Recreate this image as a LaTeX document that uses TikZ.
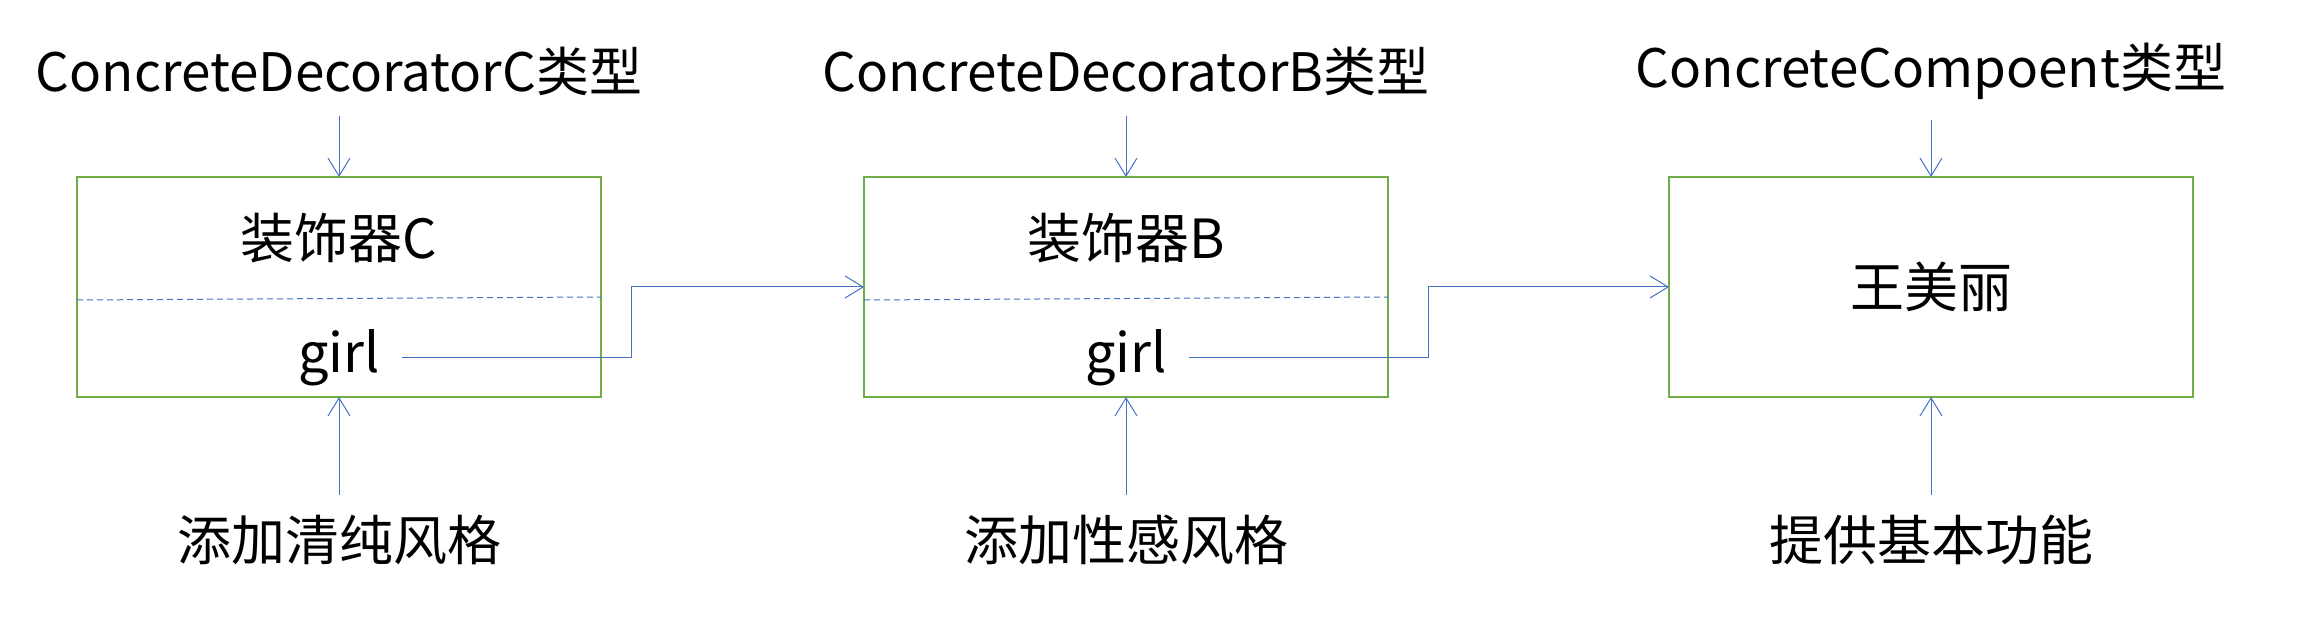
\documentclass[tikz,border=0pt]{standalone}
\usepackage{fontspec}
\setmainfont{Noto Sans CJK SC}
\usetikzlibrary{arrows.meta}
\definecolor{boxgreen}{RGB}{112,173,71}
\definecolor{linkblue}{RGB}{68,114,196}
\tikzset{
  txt/.style={font=\fontsize{27}{32}\selectfont, inner sep=0pt},
  lbl/.style={txt, inner sep=10pt},
  obj/.style={draw=boxgreen, line width=0.75pt, minimum width=262pt,
    minimum height=110pt, inner sep=0pt, outer sep=0pt},
  field/.style={txt, inner sep=11pt},
  link/.style={draw=linkblue, line width=0.5pt,
    -{Straight Barb[length=9pt,width=11pt]}},
  divider/.style={draw=linkblue, line width=0.5pt, dash pattern=on 3pt off 2pt}
}
\begin{document}
\begin{tikzpicture}[x=0.5pt,y=0.5pt]
      \useasboundingbox (0,0) rectangle (2306,616);
      \draw
        (339,329) node[obj] (C){}
        (1126,329) node[obj] (B){}
        (1931,329) node[obj] (A){};
      % names inside the boxes
      \node[txt] (nameC) at (339,378) {装饰器C};
      \node[txt] (nameB) at (1126,378) {装饰器B};
      \node[txt] (nameA) at (1931,329) {王美丽};
      \node[field] (girlC) at (339,258) {girl};
      \node[field] (girlB) at (1126,258) {girl};
      \draw[divider] ([yshift=-6.5pt]C.west) -- ([yshift=-5pt]C.east);
      \draw[divider] ([yshift=-6.5pt]B.west) -- ([yshift=-5pt]B.east);
      % type labels and roles
      \node[lbl, font=\fontsize{26.5}{32}\selectfont] (typeC) at (339,545) {ConcreteDecoratorC类型};
      \node[lbl, font=\fontsize{26.5}{32}\selectfont] (typeB) at (1126,545) {ConcreteDecoratorB类型};
      \node[lbl, font=\fontsize{26.5}{32}\selectfont] (typeA) at (1931,545) {ConcreteCompoent类型};
      \node[lbl] (roleC) at (339,76) {添加清纯风格};
      \node[lbl] (roleB) at (1126,76) {添加性感风格};
      \node[lbl] (roleA) at (1931,76) {提供基本功能};
      \begin{scope}[link]
        \draw (typeC) to (C);
        \draw (typeB) to (B);
        \draw (typeA) to (A);
        \draw (roleC) to (C);
        \draw (roleB) to (B);
        \draw (roleA) to (A);
        \draw (girlC.east) -| ([xshift=15pt]C.east) -- (B.west);
        \draw (girlB.east) -| ([xshift=20pt]B.east) -- (A.west);
      \end{scope}
    \end{tikzpicture}
\end{document}
